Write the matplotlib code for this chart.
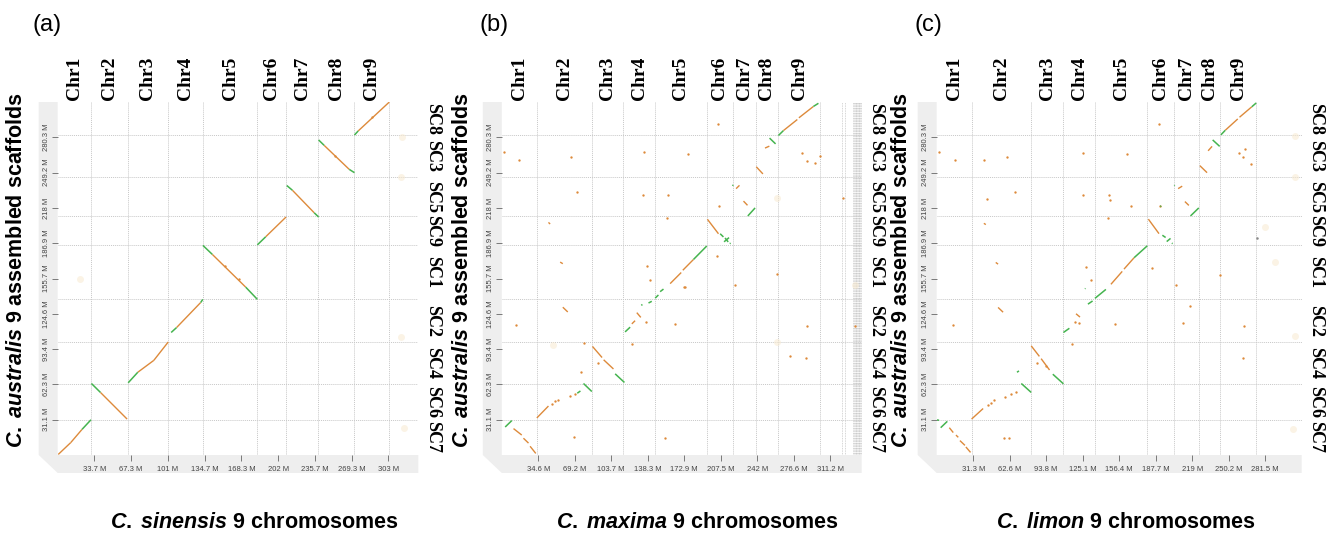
"""Three synteny dot plots: C. australis scaffolds vs C. sinensis / C. maxima / C. limon."""

import matplotlib

matplotlib.use("Agg")
import matplotlib.pyplot as plt
from matplotlib.patches import Polygon
from matplotlib.transforms import blended_transform_factory

plt.rcParams["mathtext.fontset"] = "custom"
plt.rcParams["mathtext.it"] = "Liberation Sans:italic:bold"
plt.rcParams["mathtext.rm"] = "Liberation Sans:bold"
plt.rcParams["mathtext.bf"] = "Liberation Sans:bold"

ORANGE = "#dd8a3b"
GREEN = "#45b44f"
GRID = "#c8c8c8"
FRAME = "#eeeeee"
FAINT = "#f8ead0"

# ---- shared y axis: C. australis scaffolds (Mb), bottom -> top
SC_NAMES = ["SC7", "SC6", "SC4", "SC2", "SC1", "SC9", "SC5", "SC3", "SC8"]
SC_BOUNDS = [0, 31.3, 62.5, 99.7, 137.3, 185.5, 210.5, 245.5, 282.3, 311.45]
YTICKS = [31.1, 62.3, 93.4, 124.6, 155.7, 186.9, 218, 249.2, 280.3]
CHR_NAMES = ["Chr1", "Chr2", "Chr3", "Chr4", "Chr5", "Chr6", "Chr7", "Chr8", "Chr9"]

# ---- (a) C. sinensis
CHR_A = [0, 30.5, 64.0, 101.5, 133.0, 183.0, 209.0, 239.0, 272.0, 303.5]
XMAX_A = 330.5
XTICKS_A = [33.7, 67.3, 101, 134.7, 168.3, 202, 235.7, 269.3, 303]
EXTRA_A = []
GREEN_A = [
    (22.3, 22.6, 30.5, 31.1), (30.9, 63.1, 39.2, 55.2), (64.6, 63.7, 73.4, 73.0),
    (104.0, 108.1, 108.9, 112.4), (131.0, 134.5, 133.0, 137.3),
    (133.1, 184.9, 141.7, 177.0), (172.3, 148.1, 183.0, 137.3),
    (183.0, 185.4, 190.6, 192.5), (209.9, 237.8, 215.1, 233.6),
    (235.1, 213.7, 239.1, 210.0), (239.1, 278.0, 244.2, 273.2),
    (267.2, 252.0, 272.0, 249.1), (272.0, 282.3, 275.4, 285.9),
]
ORANGE_A = [
    (0.5, 0.5, 12.0, 11.0), (12.0, 11.0, 22.3, 22.6), (39.2, 55.2, 63.6, 31.7),
    (73.4, 73.0, 88.1, 83.5), (88.1, 83.5, 101.3, 99.7),
    (108.9, 112.4, 131.0, 134.5), (141.7, 177.0, 172.3, 148.1),
    (190.6, 192.5, 209.3, 210.0), (215.1, 233.6, 235.1, 213.7),
    (244.2, 273.2, 267.2, 252.0), (275.4, 285.9, 303.9, 311.4),
]
DOTS_A = [(288.3, 297.9), (153.6, 166.7), (165.9, 155.6), (254.6, 264.2)]
FAINT_A = [(315.8, 280.9), (314.3, 245.1), (314.3, 104.2), (317.3, 23.5), (20.5, 155.6)]

# ---- (b) C. maxima
CHR_B = [0, 33.1, 85.2, 115.2, 145.1, 194.1, 218.6, 240.4, 262.0, 301.5]
XMAX_B = 341.0
XTICKS_B = [34.6, 69.2, 103.7, 138.3, 172.9, 207.5, 242, 276.6, 311.2]
EXTRA_B = [321.9, 325.2, 333.2, 333.9, 334.6, 335.3, 336.0, 336.7, 337.4,
           338.1, 338.8, 339.5, 340.2]
GREEN_B = [
    (3.2, 24.7, 9.5, 30.4), (77.4, 63.1, 85.3, 56.0), (71.5, 54.5, 74.5, 56.5),
    (107.4, 71.6, 116.2, 64.0), (116.8, 108.6, 121.6, 112.8),
    (132.2, 132.0, 133.2, 132.8), (139.0, 134.1, 142.1, 135.6),
    (145.3, 138.4, 148.4, 141.2), (150.0, 144.1, 153.2, 146.4),
    (181.6, 172.5, 194.2, 184.4), (206.9, 195.2, 210.0, 192.4),
    (210.6, 188.1, 215.3, 191.8), (211.5, 191.5, 214.5, 188.0),
    (216.0, 186.5, 216.8, 186.9), (218.6, 237.5, 219.2, 238.3),
    (233.1, 210.9, 240.0, 218.0), (253.7, 279.6, 259.4, 274.5),
    (262.1, 281.9, 266.8, 286.2), (295.2, 307.5, 300.0, 310.3),
]
ORANGE_B = [
    (11.1, 23.3, 18.9, 17.6), (20.5, 14.8, 25.3, 10.5), (26.8, 7.7, 32.2, 1.4),
    (33.2, 32.7, 44.2, 43.2), (85.9, 95.8, 95.0, 86.0), (96.5, 84.0, 105.8, 75.9),
    (127.9, 125.6, 131.7, 121.4), (123.2, 115.7, 126.3, 118.5),
    (159.5, 151.2, 170.0, 161.0), (171.5, 163.0, 181.6, 172.5),
    (194.8, 208.0, 205.3, 195.2), (222.0, 235.0, 225.2, 237.9),
    (229.0, 224.0, 232.8, 220.3), (241.1, 254.3, 247.4, 248.0),
    (249.4, 270.8, 253.5, 272.5), (266.8, 286.2, 280.0, 296.0),
    (281.5, 297.5, 295.2, 307.5), (57.8, 130.4, 62.5, 126.2),
    (55.3, 170.2, 57.8, 168.8), (44.2, 205.2, 45.8, 203.8),
]
DOTS_B = [
    (47.4, 44.6), (50.5, 47.5), (53.7, 48.9), (64.7, 51.7), (69.5, 53.7),
    (75.2, 73.6), (78.3, 99.2), (91.6, 81.6), (68.5, 16.2), (71.1, 232.2),
    (65.7, 262.6), (16.4, 260.0), (2.2, 267.1), (13.9, 115.1), (123.2, 98.0),
    (137.4, 166.8), (140.5, 154.0), (164.2, 115.7), (134.8, 266.9),
    (134.2, 229.3), (156.3, 209.5), (157.6, 229.3), (154.7, 14.8),
    (136.4, 117.1), (176.8, 265.7), (206.2, 219.4), (221.0, 149.8),
    (260.5, 159.7), (172.7, 148.4), (205.3, 292.0), (284.2, 266.3),
    (288.9, 259.2), (296.8, 257.2), (301.5, 263.5), (323.7, 226.5),
    (334.8, 114.2), (288.9, 114.2), (273.1, 87.2), (288.3, 85.8),
    (173.7, 148.4), (204.1, 175.5),
]
FAINT_B = [(260.5, 226.5), (260.5, 100.0), (334.8, 149.8), (48.9, 97.2)]

# ---- (c) C. limon
CHR_C = [0, 29.9, 81.0, 108.6, 135.6, 180.5, 203.3, 225.2, 243.1, 273.8]
XMAX_C = 312.8
XTICKS_C = [31.3, 62.6, 93.8, 125.1, 156.4, 187.7, 219, 250.2, 281.5]
EXTRA_C = []
GREEN_C = [
    (0.3, 31.0, 2.0, 30.6), (3.4, 24.1, 9.1, 29.7), (68.8, 73.0, 70.5, 74.2),
    (72.5, 63.1, 81.0, 55.2), (99.5, 71.3, 108.6, 62.8),
    (108.6, 108.1, 113.7, 111.8), (129.6, 133.1, 133.6, 135.9),
    (135.6, 138.2, 145.0, 146.1), (127.1, 146.6, 127.5, 147.0),
    (169.2, 174.1, 180.5, 184.6), (193.4, 193.9, 196.2, 191.9),
    (197.1, 188.3, 200.4, 191.1), (201.5, 186.9, 202.2, 186.5),
    (203.6, 237.6, 204.0, 238.0), (217.5, 210.9, 224.6, 218.0),
    (236.5, 278.0, 242.5, 272.3), (243.6, 282.5, 247.3, 286.5),
    (270.0, 307.2, 273.8, 310.6), (191.6, 219.2, 192.4, 219.8),
]
ORANGE_C = [
    (10.8, 24.1, 14.2, 19.8), (16.5, 17.6, 18.5, 15.6), (19.9, 12.7, 24.2, 8.5),
    (25.0, 7.1, 29.0, 2.3), (29.9, 31.7, 39.8, 41.0), (81.0, 96.3, 88.0, 87.0),
    (89.5, 85.0, 96.7, 75.0), (119.4, 124.6, 122.8, 121.7),
    (149.3, 150.6, 159.0, 162.0), (160.5, 164.0, 169.2, 174.1),
    (181.4, 208.1, 190.5, 195.3), (206.9, 235.0, 210.4, 237.2),
    (212.7, 223.6, 216.1, 220.2), (225.5, 255.3, 231.7, 249.1),
    (232.6, 268.4, 236.0, 272.3), (247.3, 286.5, 258.0, 296.5),
    (259.5, 298.0, 270.0, 307.2), (52.6, 130.2, 56.9, 126.0),
    (50.6, 169.9, 52.6, 168.4), (40.4, 204.4, 42.1, 203.3),
]
DOTS_C = [
    (44.1, 43.9), (46.9, 45.9), (48.9, 48.7), (58.3, 51.5), (64.0, 53.8),
    (67.7, 55.2), (85.9, 81.5), (93.3, 78.7), (118.3, 117.5), (2.0, 267.0),
    (15.6, 259.9), (40.7, 260.5), (60.3, 263.3), (66.8, 232.1), (43.2, 225.9),
    (14.2, 114.7), (57.4, 14.7), (62.0, 15.3), (116.0, 97.7), (121.7, 116.1),
    (127.9, 165.6), (132.2, 154.3), (125.7, 266.1), (125.7, 229.3),
    (147.8, 229.3), (148.4, 225.1), (146.4, 209.5), (153.0, 116.0),
    (163.0, 265.5), (184.8, 164.8), (204.7, 150.0), (216.9, 131.6),
    (211.0, 116.6), (242.5, 159.1), (263.5, 113.8), (262.9, 85.5),
    (191.3, 219.4), (190.5, 291.6), (258.9, 266.1), (262.3, 263.3),
    (269.1, 257.1), (264.3, 270.4), (166.3, 219.4),
]
DARK_C = [(274.3, 191.1)]
FAINT_C = [(307.0, 281.7), (307.0, 244.9), (307.0, 104.7), (305.5, 22.6),
           (281.4, 201.6), (290.0, 170.0)]

PANELS = [
    dict(tag="(a)", species="sinensis", chr=CHR_A, xmax=XMAX_A, xticks=XTICKS_A,
         extra=EXTRA_A, green=GREEN_A, orange=ORANGE_A, dots=DOTS_A,
         faint=FAINT_A, dark=[]),
    dict(tag="(b)", species="maxima", chr=CHR_B, xmax=XMAX_B, xticks=XTICKS_B,
         extra=EXTRA_B, green=GREEN_B, orange=ORANGE_B, dots=DOTS_B,
         faint=FAINT_B, dark=[]),
    dict(tag="(c)", species="limon", chr=CHR_C, xmax=XMAX_C, xticks=XTICKS_C,
         extra=EXTRA_C, green=GREEN_C, orange=ORANGE_C, dots=DOTS_C,
         faint=FAINT_C, dark=DARK_C),
]

# layout in pixels of the 1330x542 canvas
W, H = 1330, 542
AX_LEFT = [57.7, 501.8, 936.7]
AX_WIDTH = [360.6, 359.9, 365.0]
AX_TOP, AX_BOTTOM = 102, 455
TAG_X = [47, 494, 928]
YLAB_X = [17, 462, 902]
TITLE_X = [254, 697, 1126]


def draw_panel(fig, i, p):
    rect = [AX_LEFT[i] / W, (H - AX_BOTTOM) / H, AX_WIDTH[i] / W,
            (AX_BOTTOM - AX_TOP) / H]
    ax = fig.add_axes(rect)
    ax.set_xlim(0, p["xmax"])
    ax.set_ylim(0, SC_BOUNDS[-1])
    for s in ax.spines.values():
        s.set_visible(False)

    # light grey "floor and wall" frame
    fx = 19 / AX_WIDTH[i]
    fy = 18 / (AX_BOTTOM - AX_TOP)
    frame = Polygon([(-fx, 1), (0, 1), (0, 0), (1, 0), (1, -fy), (0, -fy), (-fx, 0)],
                    closed=True, transform=ax.transAxes, clip_on=False,
                    fc=FRAME, ec="none", zorder=0)
    ax.add_patch(frame)

    for x in p["chr"][1:]:
        ax.axvline(x, color=GRID, lw=0.7, ls=(0, (1, 1)), zorder=1)
    for x in p["extra"]:
        ax.axvline(x, color=GRID, lw=0.6, ls=(0, (1, 1)), zorder=1)
    for y in SC_BOUNDS[1:-1]:
        ax.axhline(y, color=GRID, lw=0.7, ls=(0, (1, 1)), zorder=1)

    if p["faint"]:
        fxs, fys = zip(*p["faint"])
        ax.plot(fxs, fys, "o", ms=5, color=FAINT, mec="none", alpha=0.55, zorder=2)
    for x0, y0, x1, y1 in p["orange"]:
        ax.plot([x0, x1], [y0, y1], color=ORANGE, lw=1.0, solid_capstyle="butt", zorder=3)
    for x0, y0, x1, y1 in p["green"]:
        ax.plot([x0, x1], [y0, y1], color=GREEN, lw=1.1, solid_capstyle="butt", zorder=4)
    dxs, dys = zip(*p["dots"])
    ax.plot(dxs, dys, "o", ms=1.7, color=ORANGE, mec="none", zorder=3)
    if p["dark"]:
        kx, ky = zip(*p["dark"])
        ax.plot(kx, ky, "o", ms=1.8, color="#888888", mec="none", zorder=3)

    ax.set_xticks(p["xticks"])
    ax.set_xticklabels([f"{v:g} M" for v in p["xticks"]],
                       family=["Liberation Sans Narrow", "Liberation Sans"])
    ax.set_yticks(YTICKS)
    ax.set_yticklabels([f"{v:g} M" for v in YTICKS], rotation=90, va="center",
                       family=["Liberation Sans Narrow", "Liberation Sans"])
    ax.tick_params(axis="both", length=4, width=0.6, color="#666666",
                   labelcolor="#444444", labelsize=5.5)
    ax.tick_params(axis="x", pad=4)
    ax.tick_params(axis="y", pad=1.5)

    top = blended_transform_factory(ax.transData, ax.transAxes)
    for name, a, b in zip(CHR_NAMES, p["chr"][:-1], p["chr"][1:]):
        ax.text((a + b) / 2, 1.006, name, transform=top, rotation=90,
                ha="center", va="bottom", family="Liberation Serif",
                weight="bold", fontsize=14)
    right = blended_transform_factory(ax.transAxes, ax.transData)
    rx = 1 + 14 / AX_WIDTH[i]
    for name, a, b in zip(SC_NAMES, SC_BOUNDS[:-1], SC_BOUNDS[1:]):
        ax.text(rx, (a + b) / 2, name, transform=right, rotation=270,
                ha="center", va="center", family="Liberation Serif",
                weight="bold", fontsize=13)

    fig.text(TAG_X[i] / W, (H - 25) / H, p["tag"], ha="center", va="center",
             family="Liberation Sans", fontsize=17)
    fig.text(YLAB_X[i] / W, (H - 270) / H,
             r"$C.\;australis$ 9 assembled scaffolds", rotation=90,
             ha="center", va="center", family="Liberation Sans",
             weight="bold", fontsize=15.5)
    fig.text(TITLE_X[i] / W, (H - 523) / H,
             rf"$C.\;{p['species']}$ 9 chromosomes", ha="center", va="center",
             family="Liberation Sans", weight="bold", fontsize=15.5)


def main():
    fig = plt.figure(figsize=(W / 100, H / 100), dpi=100)
    for i, p in enumerate(PANELS):
        draw_panel(fig, i, p)
    fig.savefig("out.png", dpi=100)


if __name__ == "__main__":
    main()
